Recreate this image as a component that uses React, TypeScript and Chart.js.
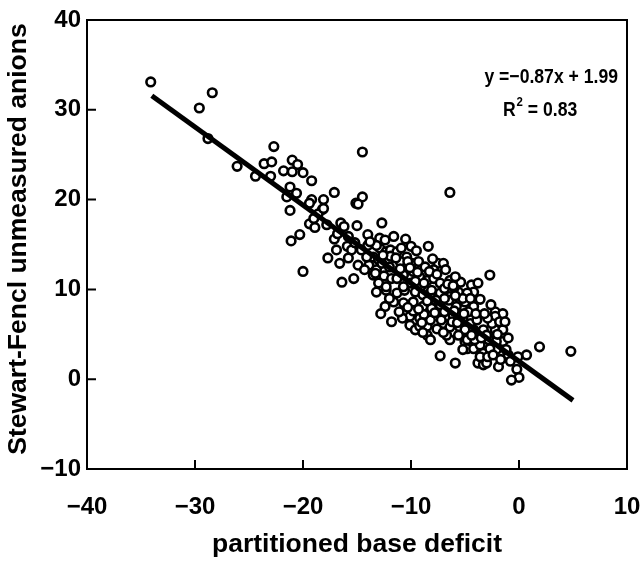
import React, { useEffect, useRef } from 'react';
import { Chart, registerables } from 'chart.js';

Chart.register(...registerables);

// ---- data ----
const xValues: number[] = [
  -34.1, -29.6, -28.4, -28.8, -26.1, -24.4, -22.7, -23.6, -22.9, -23.0,
  -21.8, -21.0, -20.5, -20.0, -21.0, -19.2, -21.2, -20.6, -21.5, -21.2,
  -19.2, -18.1, -17.1, -18.2, -18.6, -19.4, -18.9, -20.3, -21.1, -17.1,
  -16.5, -16.2, -15.1, -15.8, -20.0, -17.7, -16.6, -16.4, -14.5, -14.5,
  -14.9, -12.7, -15.0, -15.9, -15.5, -19.0, -19.4, -18.1, -14.0, -14.0,
  -12.9, -12.9, -12.3, -14.6, -13.5, -13.9, -13.2, -12.1, -14.9, -14.3,
  -13.5, -12.9, -15.3, -12.5, -8.4, -7.3, -5.9, -3.8, -12.4, -11.8,
  -10.1, -8.5, -9.6, -7.5, -7.0, -4.4, -3.8, -4.2, -2.7, -3.6,
  -2.2, -1.5, -2.2, -2.2, -1.5, -1.5, 1.9, 4.8, 0.7, -0.1,
  -0.2, 0.0, -0.7, -1.9, -3.3, -1.0, -2.1, -8.5, -9.2, -8.2,
  -7.0, -6.4, -6.7, -5.0, -4.8, -4.2, -3.6, -3.0, -3.3, -12.4,
  -11.6, -13.2, -11.9, -11.3, -10.4, -11.0, -9.9, -9.3, -8.7, -7.9,
  -13.3, -11.8, -10.7, -9.8, -9.2, -8.5, -7.9, -7.3, -6.4, -13.2,
  -12.3, -11.3, -10.6, -9.6, -8.9, -8.1, -7.3, -6.4, -5.6, -11.6,
  -10.7, -9.8, -8.9, -8.1, -7.3, -6.5, -5.8, -5.0, -4.2, -10.1,
  -9.2, -8.2, -7.2, -6.1, -5.2, -4.5, -3.9, -5.5, -6.4, -4.8,
  -4.7, -3.3, -5.0, -4.2, -4.8, -4.1, -2.8, -2.7, -2.1, -5.2,
  -3.6, -2.9, -13.0, -12.3, -11.3, -10.3, -10.5, -10.0, -9.5, -8.0,
  -6.8, -6.0, -5.4, -6.9, -10.0, -9.1, -8.0, -6.9, -6.0, -5.1,
  -11.0, -12.0, -13.0, -14.1, -15.2, -16.8, -17.8, -15.8, -16.9, -12.8,
  -10.8, -9.8, -8.8, -7.8, -2.5, -1.8, -2.9, -1.2, -0.8, -3.2,
  -2.6, -12.7, -11.9, -9.6, -10.7, -8.8, -7.6, -6.2, -5.6, -4.4,
  -3.0, -2.4, -1.7, -8.9, -6.4, -13.8, -12.6, -11.4, -10.9, -10.1,
  -9.4, -8.3, -7.6, -6.6, -5.9, -5.2, -4.5, -5.9, -6.9, -7.7,
  -8.5, -9.3, -10.3, -11.1, -12.0, -7.0, -5.7, -4.0, -3.5, -2.0,
  -1.3, -9.0, -1.0, -6.1,
];

const yValues: number[] = [
  33.1, 30.2, 31.9, 26.8, 23.7, 22.6, 25.9, 24.0, 24.2, 22.6,
  23.2, 24.4, 23.9, 23.0, 23.1, 22.1, 21.4, 20.7, 20.3, 18.8,
  20.0, 20.0, 20.8, 18.9, 18.4, 17.3, 16.9, 16.1, 15.4, 15.6,
  17.4, 17.0, 19.6, 15.9, 12.0, 13.5, 12.9, 10.8, 25.3, 20.3,
  19.5, 17.4, 17.1, 14.8, 14.4, 17.9, 19.6, 19.0, 16.1, 14.9,
  15.7, 14.6, 14.2, 14.4, 13.6, 12.7, 12.2, 13.3, 12.7, 12.2,
  11.6, 11.4, 11.2, 11.5, 14.8, 2.6, 1.8, 1.8, 8.1, 6.4,
  6.0, 4.9, 5.5, 12.9, 12.9, 10.5, 10.7, 9.7, 11.6, 8.9,
  7.5, 7.3, 7.0, 5.5, 5.5, 4.2, 3.6, 3.1, 2.7, 2.5,
  1.1, 0.2, -0.1, 1.4, 1.6, 2.7, 3.3, 5.9, 5.9, 4.4,
  6.2, 4.4, 4.9, 4.2, 3.4, 3.4, 3.8, 1.8, 2.9, 15.5,
  15.9, 14.9, 14.4, 14.2, 13.6, 13.1, 12.9, 13.1, 12.5, 12.2,
  11.8, 11.2, 11.6, 12.0, 11.4, 11.0, 11.2, 10.7, 11.0, 9.7,
  9.9, 9.6, 9.9, 9.7, 9.4, 9.9, 9.6, 9.2, 9.7, 8.6,
  8.5, 8.6, 8.1, 7.9, 8.3, 8.8, 8.1, 8.6, 8.1, 7.0,
  6.8, 6.6, 6.6, 7.1, 6.8, 6.2, 6.6, 5.8, 5.8, 9.6,
  7.5, 5.5, 5.5, 5.5, 4.4, 4.4, 4.4, 3.4, 4.2, 3.3,
  2.5, 2.5, 10.7, 10.3, 11.2, 13.1, 15.6, 14.8, 14.3, 13.4,
  12.2, 10.2, 10.8, 10.1, 10.7, 10.3, 9.0, 7.5, 7.6, 7.3,
  12.3, 12.5, 13.3, 13.6, 15.2, 16.2, 17.2, 13.5, 14.4, 7.3,
  6.8, 7.6, 7.2, 7.4, 6.2, 6.4, 6.8, 3.3, 2.0, 7.3,
  8.3, 12.9, 13.7, 10.9, 10.3, 10.7, 5.6, 6.4, 4.9, 4.9,
  4.9, 2.7, 2.2, 5.2, 20.8, 15.3, 13.8, 13.5, 14.6, 12.4,
  11.9, 12.0, 11.7, 10.6, 11.4, 9.0, 9.0, 9.3, 9.0, 8.8,
  8.7, 7.8, 8.0, 7.5, 9.0, 5.2, 6.3, 7.3, 4.6, 5.0,
  6.4, 6.3, 4.6, 10.4,
];

const fitSlope = -0.87;
const fitIntercept = 1.99;
const fitXRange = [-34, 5];

const xTickValues = [-40, -30, -20, -10, 0, 10];
const yTickValues = [-10, 0, 10, 20, 30, 40];

const xTitle = 'partitioned base deficit';
const yTitle = 'Stewart-Fencl unmeasured anions';
const equationText = 'y =\u22120.87x + 1.99';
const r2Value = '0.83';

const FONT = '"Liberation Sans", Arial, Helvetica, sans-serif';

function fmt(v: number): string {
  return v < 0 ? '\u2212' + Math.abs(v) : String(v);
}

const framePlugin = {
  id: 'frameAndText',
  afterDraw(chart: any) {
    const { ctx, chartArea } = chart;
    const xs = chart.scales.x;
    const ys = chart.scales.y;
    ctx.save();
    ctx.strokeStyle = '#000';
    ctx.lineWidth = 2;
    ctx.strokeRect(chartArea.left, chartArea.top, chartArea.right - chartArea.left, chartArea.bottom - chartArea.top);
    // inner ticks
    const tl = 9;
    ctx.beginPath();
    xTickValues.forEach((v) => {
      if (v === xs.min || v === xs.max) return;
      const px = xs.getPixelForValue(v);
      ctx.moveTo(px, chartArea.bottom);
      ctx.lineTo(px, chartArea.bottom - tl);
    });
    yTickValues.forEach((v) => {
      if (v === ys.min || v === ys.max) return;
      const py = ys.getPixelForValue(v);
      ctx.moveTo(chartArea.left, py);
      ctx.lineTo(chartArea.left + tl, py);
    });
    ctx.stroke();

    ctx.fillStyle = '#000';
    // axis titles
    ctx.font = `bold 26.5px ${FONT}`;
    ctx.textAlign = 'center';
    ctx.textBaseline = 'middle';
    ctx.fillText(xTitle, (chartArea.left + chartArea.right) / 2, 545);
    ctx.save();
    ctx.translate(19, 239);
    ctx.rotate(-Math.PI / 2);
    ctx.fillText(yTitle, 0, 0);
    ctx.restore();

    // equation annotation (slightly condensed glyphs)
    const sx = 0.88;
    ctx.save();
    ctx.scale(sx, 1);
    ctx.font = `bold 20px ${FONT}`;
    ctx.textAlign = 'right';
    ctx.fillText(equationText, 618 / sx, 77);
    ctx.textAlign = 'left';
    let x0 = 503 / sx;
    const yb = 110;
    ctx.fillText('R', x0, yb);
    x0 += ctx.measureText('R').width;
    ctx.font = `bold 13px ${FONT}`;
    ctx.fillText('2', x0 + 1, yb - 8);
    x0 += ctx.measureText('2').width + 1;
    ctx.font = `bold 20px ${FONT}`;
    ctx.fillText(' = ' + r2Value, x0, yb);
    ctx.restore();
    ctx.restore();
  },
};

export default function App() {
  const canvasRef = useRef<HTMLCanvasElement | null>(null);

  useEffect(() => {
    document.body.style.margin = '0';
    const canvas = canvasRef.current;
    if (!canvas) return;
    const points = xValues.map((x, i) => ({ x, y: yValues[i] }));
    const fitLine = fitXRange.map((x) => ({ x, y: fitSlope * x + fitIntercept }));

    const chart = new Chart(canvas, {
      type: 'scatter',
      data: {
        datasets: [
          {
            type: 'line',
            label: 'fit',
            data: fitLine,
            borderColor: '#000',
            borderWidth: 5,
            pointRadius: 0,
            fill: false,
            order: 0,
          } as any,
          {
            label: 'data',
            data: points,
            pointRadius: 4.3,
            pointBorderWidth: 2.6,
            borderColor: '#000',
            backgroundColor: '#fff',
            pointBackgroundColor: '#fff',
            pointBorderColor: '#000',
            order: 1,
          } as any,
        ],
      },
      options: {
        responsive: false,
        animation: false,
        devicePixelRatio: 1,
        layout: { padding: { top: 20, right: 17, left: 0, bottom: 0 } },
        plugins: { legend: { display: false }, tooltip: { enabled: false } },
        scales: {
          x: {
            type: 'linear',
            min: -40,
            max: 10,
            grid: { display: false, drawTicks: false },
            border: { display: false },
            ticks: {
              stepSize: 10,
              padding: 24,
              color: '#000',
              font: { family: FONT, size: 24, weight: 'bold' },
              callback: (v: any) => fmt(Number(v)),
              maxRotation: 0,
            },
            afterFit: (s: any) => {
              s.height = 93;
              s.paddingLeft = 0;
              s.paddingRight = 0;
            },
          },
          y: {
            type: 'linear',
            min: -10,
            max: 40,
            grid: { display: false, drawTicks: false },
            border: { display: false },
            ticks: {
              stepSize: 10,
              padding: 6,
              color: '#000',
              font: { family: FONT, size: 24, weight: 'bold' },
              callback: (v: any) => fmt(Number(v)),
            },
            afterFit: (s: any) => {
              s.width = 87;
              s.paddingTop = 0;
              s.paddingBottom = 0;
            },
          },
        },
      } as any,
      plugins: [framePlugin],
    });
    return () => chart.destroy();
  }, []);

  return (
    <div style={{ position: 'absolute', left: 0, top: 0, width: 644, height: 562, background: '#fff' }}>
      <canvas ref={canvasRef} width={644} height={562} style={{ display: 'block', width: 644, height: 562 }} />
    </div>
  );
}
